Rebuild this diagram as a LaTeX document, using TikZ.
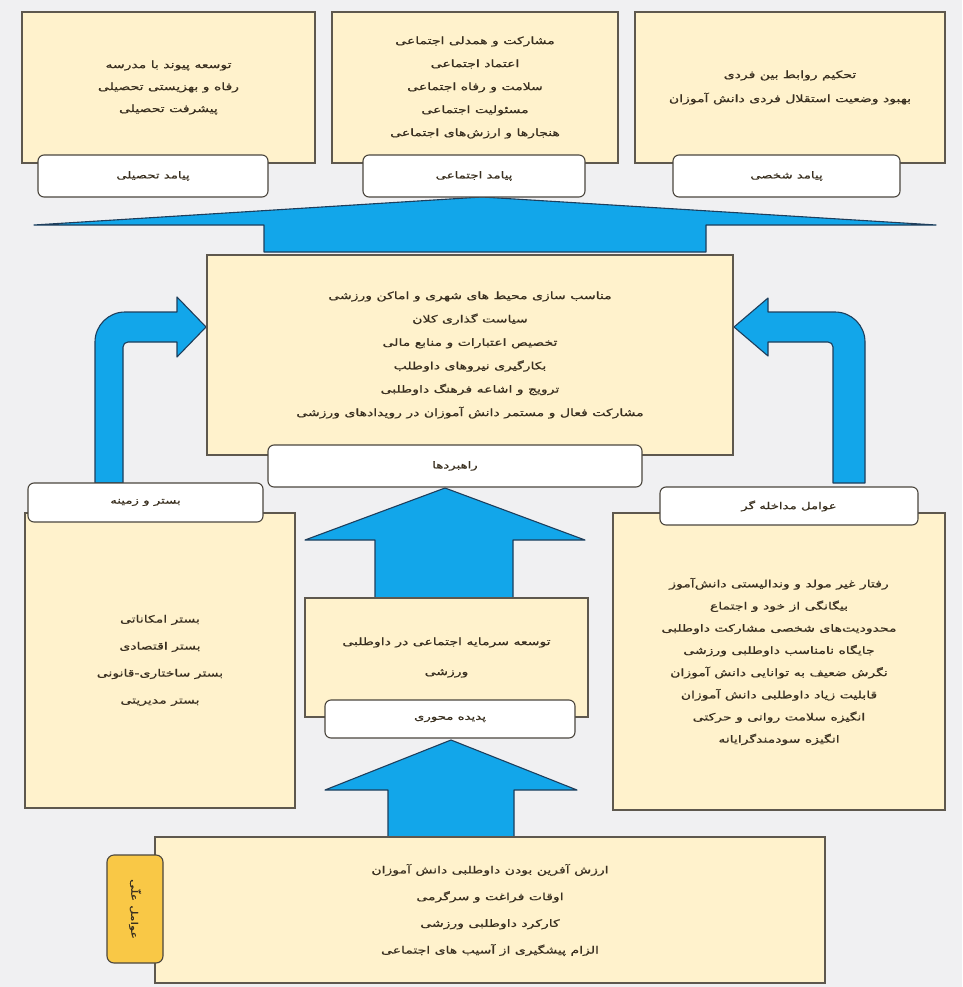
\documentclass[tikz,border=0pt]{standalone}
\usepackage{fontspec}
\newfontfamily\fafont[Script=Arabic, FakeStretch=1.4, FakeBold=0.8]{DejaVu Sans}
\TeXXeTstate=1
\newcommand{\fa}[1]{\beginR #1\endR}
\definecolor{bgc}{HTML}{F0F0F2}
\definecolor{cream}{HTML}{FFF2CC}
\definecolor{edgec}{HTML}{5E584E}
\definecolor{bluef}{HTML}{12A6EA}
\definecolor{bluee}{HTML}{1E3E5C}
\definecolor{yel}{HTML}{F9C846}
\definecolor{txt}{HTML}{3A3020}
\tikzset{
  boxstyle/.style={draw=edgec, line width=1.4pt, fill=cream, inner sep=0pt, align=center, text=txt},
  labstyle/.style={draw=edgec!80!black, line width=1.1pt, fill=white, rounded corners=6pt, inner sep=0pt, align=center, text=txt, font=\fafont\fontsize{9.5}{11}\selectfont},
  blockarrow/.style={draw=bluee, line width=1.1pt, fill=bluef, line join=round},
}
\begin{document}
\begin{tikzpicture}[x=1pt,y=-1pt]
\fill[bgc] (0,0) rectangle (962,987);
\useasboundingbox (0,0) rectangle (962,987);

% block arrows
\draw[blockarrow] (34,225) -- (482,197) -- (936,225) -- (706,225) -- (706,252) -- (264,252) -- (264,225) -- cycle;
\draw[blockarrow] (95,483) -- (95,342) arc[start angle=180, end angle=270, radius=30] -- (177,312) -- (177,297) -- (206,327) -- (177,357) -- (177,342) -- (128,342) arc[start angle=270, end angle=180, radius=5] -- (123,483) -- cycle;
\draw[blockarrow] (865,483) -- (865,342) arc[start angle=0, end angle=-90, radius=30] -- (768,312) -- (768,298) -- (734,327) -- (768,356) -- (768,342) -- (828,342) arc[start angle=270, end angle=360, radius=5] -- (833,483) -- cycle;
\draw[blockarrow] (445,488) -- (585,540) -- (513,540) -- (513,598) -- (375,598) -- (375,540) -- (305,540) -- cycle;
\draw[blockarrow] (451,740) -- (577,790) -- (514,790) -- (514,837) -- (388,837) -- (388,790) -- (325,790) -- cycle;

% top boxes
\node[boxstyle, minimum width=293pt, minimum height=151pt, font=\fafont\fontsize{10}{22}\selectfont] (b1) at (168.5,87.5)
  {\fa{توسعه پیوند با مدرسه}\\ \fa{رفاه و بهزیستی تحصیلی}\\ \fa{پیشرفت تحصیلی}};
\node[boxstyle, minimum width=286pt, minimum height=151pt, font=\fafont\fontsize{10}{23}\selectfont] (b2) at (475,87.5)
  {\fa{مشارکت و همدلی اجتماعی}\\ \fa{اعتماد اجتماعی}\\ \fa{سلامت و رفاه اجتماعی}\\ \fa{مسئولیت اجتماعی}\\ \fa{هنجارها و ارزش‌های اجتماعی}};
\node[boxstyle, minimum width=310pt, minimum height=151pt, font=\fafont\fontsize{10}{24}\selectfont] (b3) at (790,87.5)
  {\fa{تحکیم روابط بین فردی}\\ \fa{بهبود وضعیت استقلال فردی دانش آموزان}};
\node[labstyle, minimum width=230pt, minimum height=42pt] (l1) at (153,176) {\fa{پیامد تحصیلی}};
\node[labstyle, minimum width=222pt, minimum height=42pt] (l2) at (474,176) {\fa{پیامد اجتماعی}};
\node[labstyle, minimum width=227pt, minimum height=42pt] (l3) at (786.5,176) {\fa{پیامد شخصی}};

% middle box
\node[boxstyle, minimum width=526pt, minimum height=200pt, font=\fafont\fontsize{10}{23.4}\selectfont] (mid) at (470,355)
  {\fa{مناسب سازی محیط های شهری و اماکن ورزشی}\\ \fa{سیاست گذاری کلان}\\ \fa{تخصیص اعتبارات و منابع مالی}\\ \fa{بکارگیری نیروهای داوطلب}\\ \fa{ترویج و اشاعه فرهنگ داوطلبی}\\ \fa{مشارکت فعال و مستمر دانش آموزان در رویدادهای ورزشی}};
\node[labstyle, minimum width=374pt, minimum height=42pt] (lmid) at (455,466) {\fa{راهبردها}};

% left box
\node[boxstyle, minimum width=270pt, minimum height=295pt, font=\fafont\fontsize{10}{27}\selectfont] (left) at (160,660.5)
  {\fa{بستر امکاناتی}\\ \fa{بستر اقتصادی}\\ \fa{بستر ساختاری-قانونی}\\ \fa{بستر مدیریتی}};
\node[labstyle, minimum width=235pt, minimum height=39pt] (lleft) at (145.5,502.5) {\fa{بستر و زمینه}};

% right box
\node[boxstyle, minimum width=332pt, minimum height=297pt, font=\fafont\fontsize{10}{22.2}\selectfont] (right) at (779,661.5)
  {\fa{رفتار غیر مولد و وندالیستی دانش‌آموز}\\ \fa{بیگانگی از خود و اجتماع}\\ \fa{محدودیت‌های شخصی مشارکت داوطلبی}\\ \fa{جایگاه نامناسب داوطلبی ورزشی}\\ \fa{نگرش ضعیف به توانایی دانش آموزان}\\ \fa{قابلیت زیاد داوطلبی دانش آموزان}\\ \fa{انگیزه سلامت روانی و حرکتی}\\ \fa{انگیزه سودمندگرایانه}};
\node[labstyle, minimum width=258pt, minimum height=38pt] (lright) at (789,506) {\fa{عوامل مداخله گر}};

% center box
\node[boxstyle, minimum width=283pt, minimum height=119pt, font=\fafont\fontsize{10}{30}\selectfont] (core) at (446.5,657.5)
  {\fa{توسعه سرمایه اجتماعی در داوطلبی}\\ \fa{ورزشی}};
\node[labstyle, minimum width=250pt, minimum height=38pt] (lcore) at (450,719) {\fa{پدیده محوری}};

% bottom box
\node[boxstyle, minimum width=670pt, minimum height=146pt, font=\fafont\fontsize{10}{26.7}\selectfont] (bot) at (490,910)
  {\fa{ارزش آفرین بودن داوطلبی دانش آموزان}\\ \fa{اوقات فراغت و سرگرمی}\\ \fa{کارکرد داوطلبی ورزشی}\\ \fa{الزام پیشگیری از آسیب های اجتماعی}};
\node[draw=edgec!80!black, line width=1.1pt, fill=yel, rounded corners=7pt, minimum width=56pt, minimum height=108pt, inner sep=0pt] (ycause) at (135,909) {};
\node[rotate=-90, text=txt, font=\fafont\fontsize{9}{10}\selectfont] (ycauset) at (ycause.center) {\fa{عوامل علّی}};
\end{tikzpicture}
\end{document}
